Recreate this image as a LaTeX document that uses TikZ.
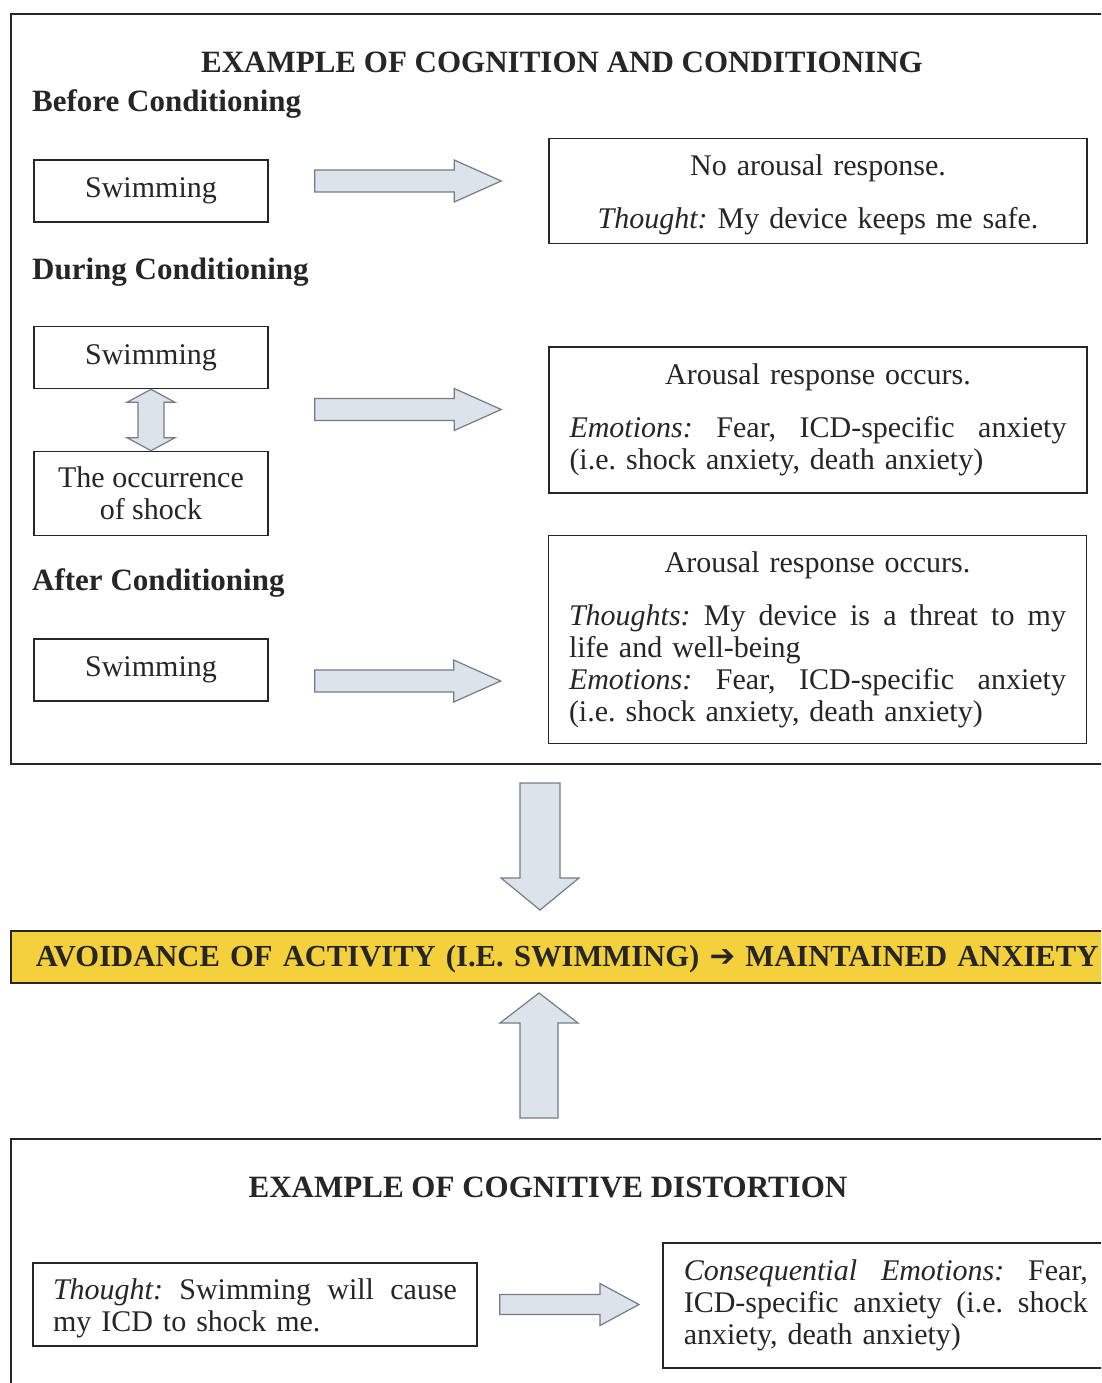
\documentclass[tikz,border=0pt]{standalone}
\usepackage{fontspec}
\setmainfont{Liberation Serif}
\newfontfamily\symfont{DejaVu Sans}
\usetikzlibrary{calc}
\definecolor{ink}{HTML}{262626}
\definecolor{arrowfill}{HTML}{DCE3EA}
\definecolor{arrowline}{HTML}{767C83}
\definecolor{band}{HTML}{F4D03C}
\newcommand\jl[2]{{\spaceskip=0pt\xspaceskip=0pt\makebox[#1][s]{#2}}}
\newcommand\harrow[5]{\draw[blk] let \p1=(#1),\p2=(#2) in
  (\x1,\y1+#3) -- (\x2-#5,\y1+#3) -- (\x2-#5,\y1+#4) -- (\x2,\y1) --
  (\x2-#5,\y1-#4) -- (\x2-#5,\y1-#3) -- (\x1,\y1-#3) -- cycle;}
\newcommand\varrow[5]{\draw[blk] let \p1=(#1),\p2=(#2) in
  (\x1+#3,\y1) -- (\x1+#3,\y2+#5) -- (\x1+#4,\y2+#5) -- (\x1,\y2) --
  (\x1-#4,\y2+#5) -- (\x1-#3,\y2+#5) -- (\x1-#3,\y1) -- cycle;}
\newcommand\dvarrow[5]{\draw[blk] let \p1=(#1),\p2=(#2) in
  (\x1,\y1) -- (\x1+#4,\y1-#5) -- (\x1+#3,\y1-#5) -- (\x1+#3,\y2+#5) --
  (\x1+#4,\y2+#5) -- (\x1,\y2) -- (\x1-#4,\y2+#5) -- (\x1-#3,\y2+#5) --
  (\x1-#3,\y1-#5) -- (\x1-#4,\y1-#5) -- cycle;}
\begin{document}
\begin{tikzpicture}[x=1pt,y=-1pt,
  every node/.style={font=\fontsize{30}{32}\selectfont\frenchspacing, text=ink},
  box/.style={draw=ink, line width=1.6pt, inner sep=0pt},
  smallbox/.style={box, minimum width=234pt, minimum height=62pt, align=center},
  bigbox/.style={box, minimum width=538pt, text width=497pt, align=left},
  frame/.style={draw=ink, line width=1.6pt, inner sep=0pt, anchor=north west},
  blk/.style={fill=arrowfill, draw=arrowline, line width=1.2pt, line join=miter},
  heading/.style={font=\fontsize{31}{33}\selectfont\bfseries, anchor=west, inner sep=0pt},
  title/.style={font=\fontsize{31}{33}\selectfont\bfseries, inner sep=0pt}
]
\useasboundingbox (0,0) rectangle (1101,1383);
\fill[white] (0,0) rectangle (1101,1383);
\clip (0,0) rectangle (1101,1383);

% upper frame
\node[frame, minimum width=1130pt, minimum height=750pt] (frameA) at (10,13) {};
\node[title] (titleA) at (562,62) {EXAMPLE OF COGNITION AND CONDITIONING};

\node[heading] (before) at (32,104) {Before Conditioning};
\node[smallbox] (sw1) at (151,191) {Swimming};
\node[bigbox, minimum height=105pt] (r1) at (818,191)
  {\makebox[497pt]{\rule{0pt}{29pt}No arousal response.}\\[21pt]
   \makebox[497pt]{\textit{Thought:} My device keeps me safe.}};

\node[heading] (during) at (32,272) {During Conditioning};
\node[smallbox] (sw2) at (151,357.5) {Swimming};
\node[smallbox, minimum height=84pt] (shock) at (151,493.5)
  {The occurrence\\of shock};
\node[bigbox, minimum height=146pt] (r2) at (818,420)
  {\makebox[497pt]{Arousal response occurs.}\\[21pt]
   \jl{497pt}{\textit{Emotions:} Fear, ICD-specific anxiety}\\
   (i.e. shock anxiety, death anxiety)};

\node[heading] (after) at (32,583) {After Conditioning};
\node[smallbox] (sw3) at (151,670) {Swimming};
\node[bigbox, minimum height=208pt] (r3) at (817.5,639.5)
  {\makebox[497pt]{Arousal response occurs.}\\[21pt]
   \jl{497pt}{\textit{Thoughts:} My device is a threat to my}\\
   life and well-being\\
   \jl{497pt}{\textit{Emotions:} Fear, ICD-specific anxiety}\\
   (i.e. shock anxiety, death anxiety)};

% arrows in the upper frame
\harrow{$(sw1.east)+(46,-10)$}{$(r1.west)+(-47,0)$}{11pt}{21pt}{47pt}
\harrow{$(sw2.east)+(46,52)$}{$(r2.west)+(-47,0)$}{11pt}{21pt}{47pt}
\harrow{$(sw3.east)+(46,11)$}{$(r3.west)+(-47,0)$}{11pt}{21pt}{47pt}
\dvarrow{sw2.south}{shock.north}{13pt}{24pt}{13pt}

% middle band
\node[draw=ink, line width=1.6pt, fill=band, anchor=north west, inner xsep=25pt,
      inner ysep=0pt, minimum height=52pt, text width=1300pt, align=left,
      font=\fontsize{30.6}{33}\selectfont\bfseries\frenchspacing] (band) at (10,930)
  {\rule{0pt}{25pt}AVOIDANCE OF ACTIVITY (I.E. SWIMMING) {\symfont\bfseries ➔} MAINTAINED ANXIETY};

\coordinate (dA) at (540,783);
\coordinate (dB) at (540,910);
\varrow{dA}{dB}{20pt}{39pt}{32pt}
\coordinate (uA) at (539,1118);
\coordinate (uB) at (539,993);
\varrow{uA}{uB}{19pt}{39pt}{-30pt}

% lower frame
\node[frame, minimum width=1130pt, minimum height=300pt] (frameB) at (10,1138) {};
\node[title] (titleB) at (548,1187) {EXAMPLE OF COGNITIVE DISTORTION};

\node[box, minimum width=444pt, minimum height=83pt, text width=404pt, align=left] (b1) at (255,1304.5)
  {\jl{404pt}{\rule{0pt}{29pt}\textit{Thought:} Swimming will cause}\\my ICD to shock me.};
\node[box, minimum height=125pt, text width=404pt, inner xsep=21pt, align=left, anchor=west] (b2) at (662,1305.5)
  {\jl{404pt}{\textit{Consequential Emotions:} Fear,}\\
   \jl{404pt}{ICD-specific anxiety (i.e. shock}\\
   anxiety, death anxiety)};
\harrow{$(b1.east)+(22,0)$}{$(b2.west)+(-23,0)$}{10pt}{21pt}{39pt}
\end{tikzpicture}
\end{document}
